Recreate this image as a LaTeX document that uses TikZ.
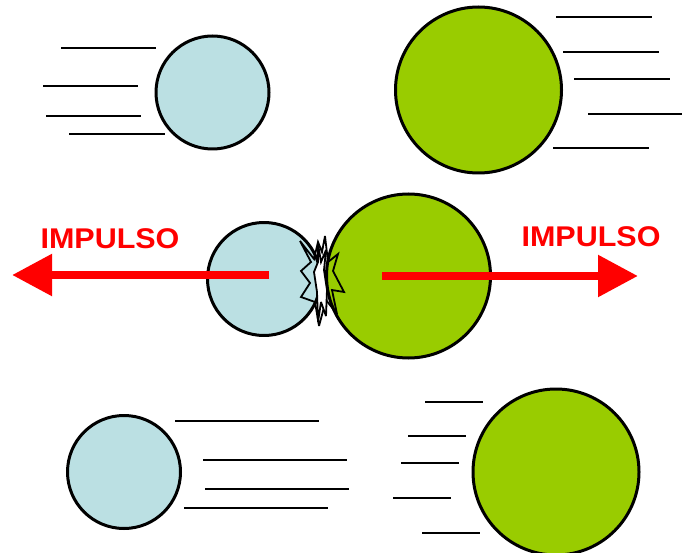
\documentclass[tikz,border=0pt]{standalone}
\usepackage{fontspec}
\setmainfont{Liberation Sans}
\usetikzlibrary{arrows.meta}
\definecolor{bolaazul}{RGB}{187,224,227}
\definecolor{bolaverde}{RGB}{153,204,0}
\begin{document}
\begin{tikzpicture}[x=1pt,y=-1pt,line join=round,line cap=butt,thick]
				\tikzset{bola/.style={circle,draw=black,line width=3pt,inner sep=0pt},
					raya/.style={line width=2.2pt},
					choque/.style={line width=1.8pt,line join=miter,miter limit=4},
					impulso/.style={red,line width=8.5pt,-{Triangle[length=40pt,width=40pt]}},
					rotulo/.style={red,font=\fontsize{28.5}{28.5}\selectfont\bfseries,xscale=1.07}}
				\useasboundingbox (0,0) rectangle (682,553);
				% arriba
				\draw[raya] (61,48)--(156,48);
				\draw[raya] (43,86)--(138,86);
				\draw[raya] (46,116)--(141,116);
				\draw[raya] (69,134)--(165,134);
				\node[bola,fill=bolaazul,minimum size=113pt] (azul1) at (212.5,92.5) {};
				\draw[raya] (556,17)--(652,17);
				\draw[raya] (563,52)--(659,52);
				\draw[raya] (574,79)--(670,79);
				\draw[raya] (588,114)--(682,114);
				\draw[raya] (553,148)--(649,148);
				\node[bola,fill=bolaverde,minimum size=166pt] (verde1) at (478.5,90) {};
				% choque
				\node[bola,fill=bolaazul,minimum size=113pt] (azul2) at (264,279) {};
				\node[bola,fill=bolaverde,minimum size=164pt] (verde2) at (408.5,276) {};
				\draw[choque] (300,241)--(314,259)--(318,242)--(322,252)--(325,236)--(328,262)
					--(338,254)--(333,271)--(344,292)--(332,290)--(337,314)--(326,300)
					--(319,326)--(315,302)--(301,297)--(310,283)--(301,271)--(311,262)--cycle;
				\draw[choque,fill=white] (318,244)--(321,262)--(326,250)--(324,270)--(327,290)
					--(326,316)--(321,302)--(318,322)--(317,292)--(314,272)--(318,262)--cycle;
				\coordinate (izq) at (12,275);
				\coordinate (der) at (638,276);
				\coordinate (azulc) at (269,275);
				\coordinate (verdec) at (382,276);
				\draw[impulso] (azulc)--(izq);
				\draw[impulso] (verdec)--(der);
				\node[rotulo] (imp1) at (110,238.5) {IMPULSO};
				\node[rotulo] (imp2) at (591,236.5) {IMPULSO};
				% abajo
				\node[bola,fill=bolaazul,minimum size=113pt] (azul3) at (124,472) {};
				\draw[raya] (175,421)--(319,421);
				\draw[raya] (203,460)--(347,460);
				\draw[raya] (205,489)--(349,489);
				\draw[raya] (184,508)--(328,508);
				\draw[raya] (425,402)--(483,402);
				\draw[raya] (408,436)--(466,436);
				\draw[raya] (401,463)--(459,463);
				\draw[raya] (393,498)--(451,498);
				\draw[raya] (422,533)--(480,533);
				\node[bola,fill=bolaverde,minimum size=166pt] (verde3) at (556,472) {};
			\end{tikzpicture}
\end{document}
